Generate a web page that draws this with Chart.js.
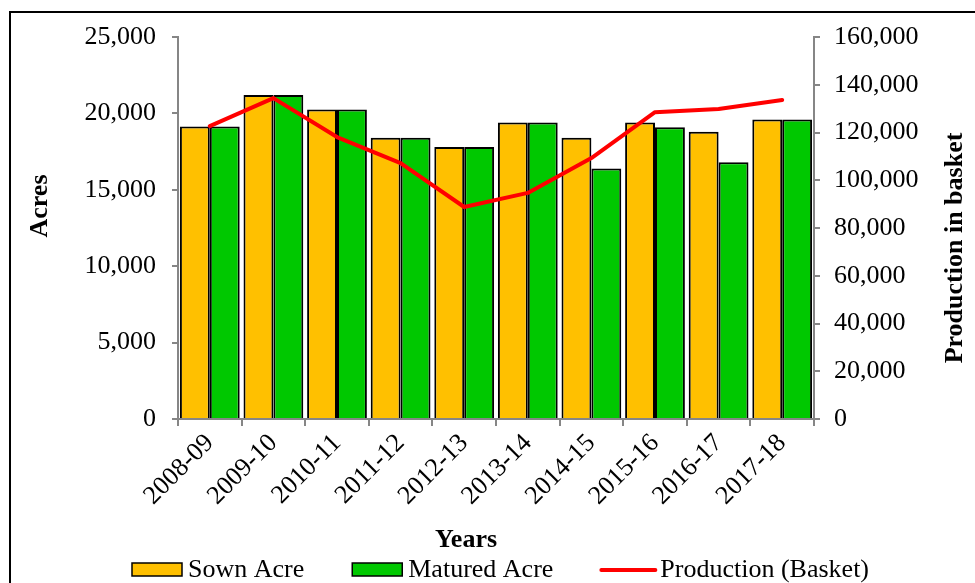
<!DOCTYPE html>
<html lang="en">
<head>
  <meta charset="UTF-8" />
  <title>Sown, Matured Acre and Production</title>
  <script src="https://cdn.jsdelivr.net/npm/chart.js"></script>
  <style>
    body {
      margin: 0;
      padding: 0;
      background: #ffffff;
      overflow: hidden;
    }

    .frame {
      position: absolute;
      left: 9px;
      top: 11px;
      width: 1200px;
      height: 800px;
      border-left: 2px solid #000;
      border-top: 2px solid #000;
    }

    .chart-box {
      position: absolute;
      left: 0;
      top: 0;
      width: 975px;
      height: 583px;
    }
  </style>
</head>
<body>
  <div class="frame"></div>
  <div class="chart-box">
    <canvas id="cropChart" width="975" height="583"></canvas>
  </div>

  <script>
  // data
  const years = ['2008-09', '2009-10', '2010-11', '2011-12', '2012-13',
                 '2013-14', '2014-15', '2015-16', '2016-17', '2017-18'];
  const sownAcre = [19150, 21200, 20250, 18400, 17800, 19400, 18400, 19400, 18800, 19600];
  const maturedAcre = [19150, 21200, 20250, 18400, 17800, 19400, 16400, 19100, 16800, 19600];
  const production = [122700, 134400, 118100, 107200, 88800, 94700, 109300, 128500, 129800, 133600];

  const acreTicks = [0, 5000, 10000, 15000, 20000, 25000];
  const basketTicks = [0, 20000, 40000, 60000, 80000, 100000, 120000, 140000, 160000];

  const FONT = "'Liberation Serif', 'Times New Roman', serif";
  const AXIS_GREY = '#868686';

  const fmt = v => Number(v).toLocaleString('en-US');

  // titles + legend drawn by hand so they sit where the original has them
  const extrasPlugin = {
    id: 'extras',
    afterDraw(chart) {
      const ctx = chart.ctx;
      ctx.save();
      ctx.fillStyle = '#000';
      ctx.font = 'bold 26px ' + FONT;
      ctx.textAlign = 'center';
      ctx.textBaseline = 'middle';

      // left title
      ctx.save();
      ctx.translate(40, 206);
      ctx.rotate(-Math.PI / 2);
      ctx.fillText('Acres', 0, 0);
      ctx.restore();

      // right title
      ctx.save();
      ctx.translate(955, 248);
      ctx.rotate(-Math.PI / 2);
      ctx.fillText('Production in basket', 0, 0);
      ctx.restore();

      // x title
      ctx.fillText('Years', 466, 540);

      // legend
      ctx.font = '26px ' + FONT;
      ctx.textAlign = 'left';
      ctx.textBaseline = 'alphabetic';
      let x = 132;
      const baseY = 577;
      chart.data.datasets.forEach(ds => {
        if (ds.type === 'line') {
          ctx.strokeStyle = ds.borderColor;
          ctx.lineWidth = 4;
          ctx.lineCap = 'round';
          ctx.beginPath();
          ctx.moveTo(x, 570);
          ctx.lineTo(x + 54, 570);
          ctx.stroke();
        } else {
          ctx.fillStyle = ds.backgroundColor;
          ctx.fillRect(x, 563, 50, 13);
          ctx.strokeStyle = '#000';
          ctx.lineWidth = 1.5;
          ctx.strokeRect(x, 563, 50, 13);
        }
        ctx.fillStyle = '#000';
        const tx = x + (ds.type === 'line' ? 59 : 56);
        ctx.fillText(ds.label, tx, baseY);
        x = tx + ctx.measureText(ds.label).width + 48;
      });
      ctx.restore();
    }
  };

  new Chart(document.getElementById('cropChart'), {
    type: 'bar',
    data: {
      labels: years,
      datasets: [
        {
          label: 'Sown Acre',
          data: sownAcre,
          yAxisID: 'y',
          backgroundColor: '#FFC000',
          borderColor: '#000',
          borderWidth: 2,
          categoryPercentage: 0.94,
          barPercentage: 1.0,
          order: 1
        },
        {
          label: 'Matured Acre',
          data: maturedAcre,
          yAxisID: 'y',
          backgroundColor: '#00C800',
          borderColor: '#000',
          borderWidth: 2,
          categoryPercentage: 0.94,
          barPercentage: 1.0,
          order: 1
        },
        {
          type: 'line',
          label: 'Production (Basket)',
          data: production,
          yAxisID: 'y1',
          borderColor: '#FF0000',
          backgroundColor: '#FF0000',
          borderWidth: 4,
          borderCapStyle: 'round',
          borderJoinStyle: 'round',
          pointRadius: 0,
          tension: 0,
          order: 0
        }
      ]
    },
    options: {
      responsive: false,
      animation: false,
      layout: { padding: { top: 37, left: 0, right: 0, bottom: 0 } },
      plugins: {
        legend: { display: false },
        tooltip: { enabled: false }
      },
      scales: {
        x: {
          afterFit(scale) { scale.height = 164; },
          grid: {
            offset: true,
            drawOnChartArea: false,
            drawTicks: true,
            tickLength: 7,
            color: AXIS_GREY,
            lineWidth: 2
          },
          border: { color: AXIS_GREY, width: 2 },
          ticks: {
            minRotation: 45,
            maxRotation: 45,
            padding: 2,
            color: '#000',
            font: { family: FONT, size: 26 }
          }
        },
        y: {
          position: 'left',
          min: 0,
          max: acreTicks[acreTicks.length - 1],
          afterFit(scale) { scale.width = 178; },
          afterBuildTicks(scale) { scale.ticks = acreTicks.map(v => ({ value: v })); },
          grid: {
            drawOnChartArea: false,
            tickLength: 6,
            color: AXIS_GREY,
            lineWidth: 2
          },
          border: { color: AXIS_GREY, width: 2 },
          ticks: {
            padding: 16,
            color: '#000',
            font: { family: FONT, size: 26 },
            callback: v => fmt(v)
          }
        },
        y1: {
          position: 'right',
          min: 0,
          max: basketTicks[basketTicks.length - 1],
          afterFit(scale) { scale.width = 161; },
          afterBuildTicks(scale) { scale.ticks = basketTicks.map(v => ({ value: v })); },
          grid: {
            drawOnChartArea: false,
            tickLength: 6,
            color: AXIS_GREY,
            lineWidth: 2
          },
          border: { color: AXIS_GREY, width: 2 },
          ticks: {
            padding: 14,
            color: '#000',
            font: { family: FONT, size: 26 },
            callback: v => fmt(v)
          }
        }
      }
    },
    plugins: [extrasPlugin]
  });
</script>
</body>
</html>
